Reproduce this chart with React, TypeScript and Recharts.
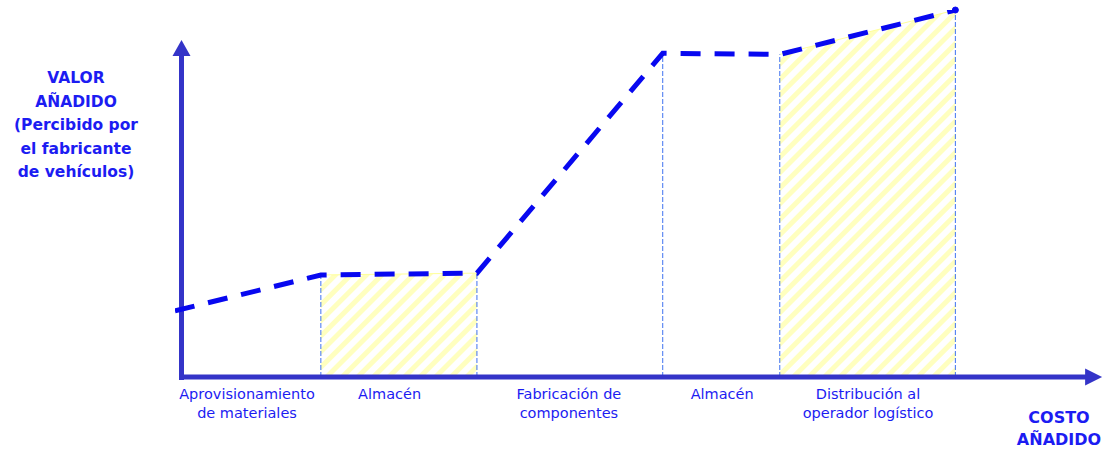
import React from "react";
import {
  ComposedChart,
  Line,
  Area,
  XAxis,
  YAxis,
  ReferenceLine,
  ReferenceDot,
} from "recharts";

// ---- data ----
const STAGES = [
  "Aprovisionamiento\nde materiales",
  "Almacén",
  "Fabricación de\ncomponentes",
  "Almacén",
  "Distribución al\noperador logístico",
];
const COST_BREAKS = [0, 15.7, 32.5, 52.5, 65.1, 84.0];
const VALUE_ADDED = [18, 27.8, 28.3, 88.2, 87.9, 100];
const HATCHED = [false, true, false, false, true];
const LABEL_POS = [7.75, 23.1, 42.4, 58.9, 74.6];
const Y_TITLE = ["VALOR", "AÑADIDO", "(Percibido por", "el fabricante", "de vehículos)"];
const X_TITLE = ["COSTO", "AÑADIDO"];

const W = 1109;
const H = 455;
const FONT = '"Comic Sans MS", "DejaVu Sans", sans-serif';
const LINE_BLUE = "#0808f0";
const AXIS_BLUE = "#3434c8";
const TEXT_BLUE = "#1c1cf2";
const VLINE_BLUE = "#3f72f0";
const HATCH_YELLOW = "#ffffbf";

const AXIS_X0 = 0.7;
const X_ARROW_TIP = 99.8;
const Y_ARROW_TIP = 91.8;

const data = COST_BREAKS.map((c, i) => {
  const inHatch = (i > 0 && HATCHED[i - 1]) || (i < HATCHED.length && HATCHED[i]);
  return { cost: c, value: VALUE_ADDED[i], hatch: inHatch ? VALUE_ADDED[i] : null };
});

const StageTick = (props: any) => {
  const { x, y, index } = props;
  const lines = STAGES[index].split("\n");
  return (
    <text x={x} y={y} textAnchor="middle" fill={TEXT_BLUE} fontSize={14.5} fontFamily={FONT}>
      {lines.map((l, i) => (
        <tspan key={i} x={x} dy={i === 0 ? 14 : 19}>
          {l}
        </tspan>
      ))}
    </text>
  );
};

export default function App() {
  return (
    <div style={{ position: "absolute", left: 0, top: 0, width: W, height: H, background: "#fff" }}>
      <ComposedChart
        width={W}
        height={H}
        data={data}
        margin={{ top: 10, right: 5, left: 175, bottom: 28 }}
      >
        <defs>
          <pattern
            id="hatch"
            patternUnits="userSpaceOnUse"
            width={11}
            height={11}
            patternTransform="rotate(45)"
          >
            <rect x={0} y={0} width={5} height={11} fill={HATCH_YELLOW} />
          </pattern>
        </defs>
        <XAxis
          dataKey="cost"
          type="number"
          domain={[0, 100]}
          ticks={LABEL_POS}
          interval={0}
          axisLine={false}
          tickLine={false}
          height={50}
          tick={<StageTick />}
          allowDataOverflow
        />
        <YAxis type="number" domain={[0, 100]} hide allowDataOverflow />
        <Area
          dataKey="hatch"
          type="linear"
          fill="url(#hatch)"
          fillOpacity={1}
          stroke="#ffff99"
          strokeWidth={1}
          connectNulls={false}
          isAnimationActive={false}
          dot={false}
          activeDot={false}
        />
        {COST_BREAKS.slice(1).map((c, i) => (
          <ReferenceLine
            key={"v" + i}
            segment={[
              { x: c, y: 0 },
              { x: c, y: VALUE_ADDED[i + 1] },
            ]}
            stroke={VLINE_BLUE}
            strokeWidth={1}
            strokeDasharray="5 2"
            ifOverflow="visible"
          />
        ))}
        <ReferenceLine
          segment={[
            { x: AXIS_X0, y: -0.8 },
            { x: AXIS_X0, y: Y_ARROW_TIP - 4 },
          ]}
          stroke={AXIS_BLUE}
          strokeWidth={5}
          ifOverflow="visible"
        />
        <ReferenceLine
          segment={[
            { x: AXIS_X0 - 0.25, y: 0 },
            { x: X_ARROW_TIP - 1.5, y: 0 },
          ]}
          stroke={AXIS_BLUE}
          strokeWidth={5}
          ifOverflow="visible"
        />
        <ReferenceDot
          x={X_ARROW_TIP}
          y={0}
          ifOverflow="visible"
          shape={(p: any) => (
            <path
              d={`M${p.cx},${p.cy} L${p.cx - 17},${p.cy - 8.5} L${p.cx - 17},${p.cy + 8.5} Z`}
              fill={AXIS_BLUE}
            />
          )}
        />
        <ReferenceDot
          x={AXIS_X0}
          y={Y_ARROW_TIP}
          ifOverflow="visible"
          shape={(p: any) => (
            <path
              d={`M${p.cx},${p.cy} L${p.cx - 9},${p.cy + 16} L${p.cx + 9},${p.cy + 16} Z`}
              fill={AXIS_BLUE}
            />
          )}
        />
        <Line
          dataKey="value"
          type="linear"
          stroke={LINE_BLUE}
          strokeWidth={5}
          strokeDasharray="20 14"
          dot={false}
          activeDot={false}
          isAnimationActive={false}
        />
        <ReferenceDot
          x={COST_BREAKS[COST_BREAKS.length - 1]}
          y={VALUE_ADDED[VALUE_ADDED.length - 1]}
          r={3}
          fill={LINE_BLUE}
          stroke={LINE_BLUE}
          ifOverflow="visible"
        />
      </ComposedChart>
      <svg
        width={W}
        height={H}
        style={{ position: "absolute", left: 0, top: 0, pointerEvents: "none" }}
      >
        {Y_TITLE.map((t, i) => (
          <text
            key={"y" + i}
            x={76}
            y={83 + i * 23.5}
            textAnchor="middle"
            fill={TEXT_BLUE}
            fontSize={15.5}
            fontWeight="bold"
            fontFamily={FONT}
          >
            {t}
          </text>
        ))}
        {X_TITLE.map((t, i) => (
          <text
            key={"x" + i}
            x={1059}
            y={423 + i * 22}
            textAnchor="middle"
            fill={TEXT_BLUE}
            fontSize={16}
            fontWeight="bold"
            fontFamily={FONT}
          >
            {t}
          </text>
        ))}
      </svg>
    </div>
  );
}
